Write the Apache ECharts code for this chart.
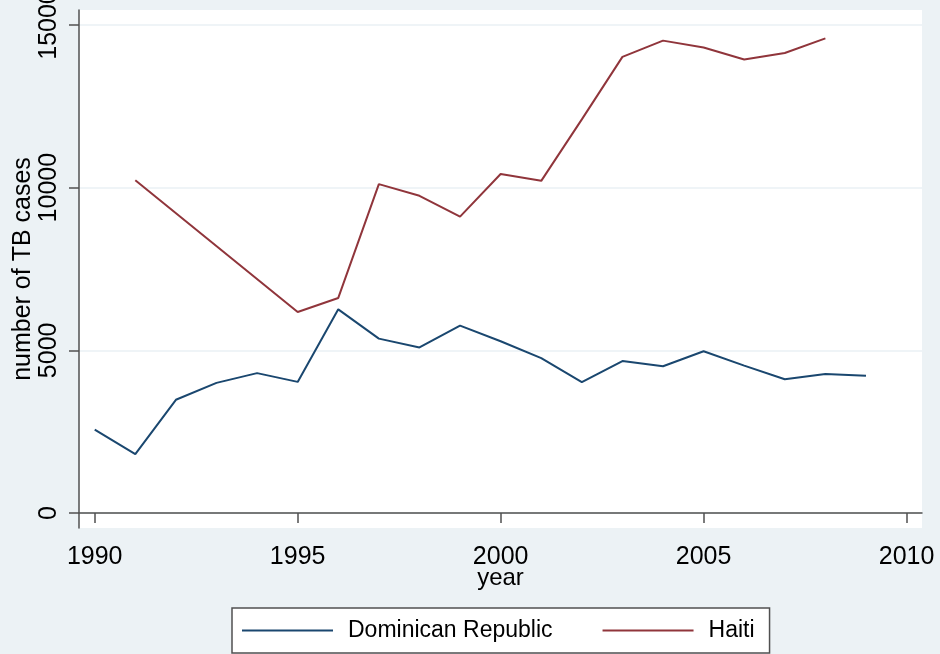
<!DOCTYPE html>
<html>
<head>
<meta charset="utf-8">
<title>TB cases</title>
<script src="https://cdn.jsdelivr.net/npm/echarts@6/dist/echarts.min.js"></script>
<style>
    html, body { margin: 0; padding: 0; background: #ecf2f5; }
    #chart { width: 940px; height: 654px; }
</style>
</head>
<body>
<div id="chart"></div>
<script>
    'use strict';

    // Dominican Republic, 1990 - 2009
    var drYears = [1990, 1991, 1992, 1993, 1994, 1995, 1996, 1997, 1998, 1999,
                   2000, 2001, 2002, 2003, 2004, 2005, 2006, 2007, 2008, 2009];
    var drCases = [2560, 1810, 3480, 4000, 4300, 4030, 6260, 5360, 5090, 5760,
                   5280, 4760, 4020, 4670, 4510, 4970, 4530, 4110, 4270, 4220];

    // Haiti, no values for 1992-1994
    var haitiYears = [1991, 1995, 1996, 1997, 1998, 1999, 2000, 2001, 2002,
                      2003, 2004, 2005, 2006, 2007, 2008];
    var haitiCases = [10230, 6180, 6610, 10110, 9750, 9110, 10420, 10210, 12100,
                      14020, 14520, 14310, 13940, 14140, 14590];

    var xTicks = [1990, 1995, 2000, 2005, 2010];
    var yTicks = [0, 5000, 10000, 15000];

    var seriesNames = ['Dominican Republic', 'Haiti'];
    var seriesColors = ['#1a476f', '#90353b'];

    var FONT = '"Liberation Sans", Arial, sans-serif';
    var AXIS_COLOR = '#505050';
    var GRID_COLOR = '#eaf1f4';

    function pairs(xs, ys) {
        var out = [];
        for (var i = 0; i < xs.length; i++) out.push([xs[i], ys[i]]);
        return out;
    }

    // plain numbers, no thousands separator
    function plain(v) {
        return String(Math.round(v));
    }

    function lineSeries(name, data, color) {
        return {
            name: name,
            type: 'line',
            data: data,
            symbol: 'none',
            color: color,
            lineStyle: { color: color, width: 2 },
            emphasis: { disabled: true }
        };
    }

    var chart = echarts.init(document.getElementById('chart'));

    var option = {
        animation: false,
        backgroundColor: '#ecf2f5',
        textStyle: { fontFamily: FONT },
        grid: {
            show: true,
            left: 79,
            top: 10,
            right: 18,
            bottom: 126,
            outerBoundsMode: 'none',
            containLabel: false,
            backgroundColor: '#ffffff',
            borderWidth: 0
        },
        xAxis: {
            type: 'value',
            // plot region runs a little past 1990 and 2010, as in Stata
            min: 1989.613,
            max: 2010.38,
            name: 'year',
            nameLocation: 'middle',
            nameGap: 38,
            nameMoveOverlap: false,
            nameTextStyle: { fontSize: 24, color: '#000', fontFamily: FONT },
            axisLine: { lineStyle: { color: AXIS_COLOR, width: 1.5 } },
            axisTick: { show: true, length: 10, customValues: xTicks,
                        lineStyle: { color: AXIS_COLOR, width: 1.5 } },
            axisLabel: { customValues: xTicks, margin: 17, fontSize: 25,
                         color: '#000', fontFamily: FONT, formatter: plain },
            splitLine: { show: false }
        },
        yAxis: {
            type: 'value',
            min: -461,
            max: 15461,
            name: 'number of TB cases',
            nameLocation: 'middle',
            nameRotate: 90,
            nameGap: 43,
            nameMoveOverlap: false,
            nameTextStyle: { fontSize: 25, color: '#000', fontFamily: FONT },
            axisLine: { show: true, lineStyle: { color: AXIS_COLOR, width: 1.5 } },
            axisTick: { show: true, length: 10, customValues: yTicks,
                        lineStyle: { color: AXIS_COLOR, width: 1.5 } },
            axisLabel: { customValues: yTicks, rotate: 90, margin: 17, fontSize: 25,
                         color: '#000', fontFamily: FONT, formatter: plain },
            splitLine: { show: true, lineStyle: { color: GRID_COLOR, width: 1.5 } }
        },
        legend: {
            data: seriesNames,
            left: 232,
            top: 608,
            orient: 'horizontal',
            icon: 'rect',
            itemWidth: 91,
            itemHeight: 2,
            itemGap: 50,
            padding: [11, 15, 11, 10],
            backgroundColor: '#ffffff',
            borderColor: '#505050',
            borderWidth: 1.5,
            borderRadius: 0,
            textStyle: { fontSize: 23, color: '#000', fontFamily: FONT,
                         padding: [0, 0, 0, 10] }
        },
        series: [
            lineSeries(seriesNames[0], pairs(drYears, drCases), seriesColors[0]),
            lineSeries(seriesNames[1], pairs(haitiYears, haitiCases), seriesColors[1])
        ]
    };

    chart.setOption(option);
</script>
</body>
</html>
